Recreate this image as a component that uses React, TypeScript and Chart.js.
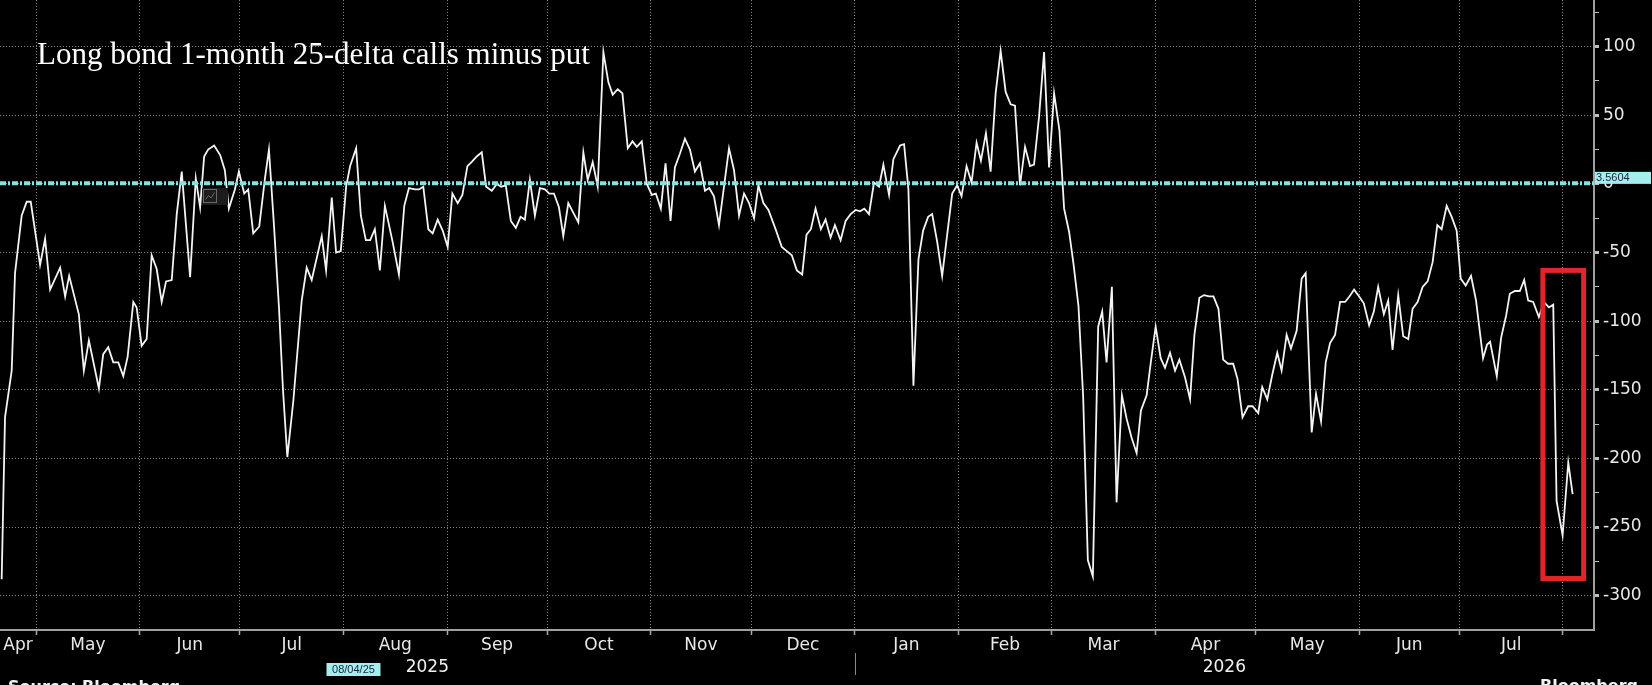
import { useEffect, useRef } from "react";
import { Chart, registerables } from "chart.js";

Chart.register(...registerables);

// ---- data (x = calendar days counted from 1 Apr of the first labelled year) ----
const obsDay = [
  19.7, 20.7, 22.7, 23.7, 25.7, 27.2, 28.4, 31.2, 32.7, 34.2,
  37.2, 38.7, 39.9, 42.8, 44.3, 45.8, 48.8, 50.1, 51.6, 53.1,
  54.6, 56.1, 57.4, 59.1, 60.1, 61.6, 63.1, 64.6, 66.1, 67.6,
  68.9, 70.6, 72.1, 73.6, 76.1, 77.8, 79.1, 80.3, 81.5, 83.3,
  85.1, 86.5, 87.7, 89.5, 90.7, 92.3, 93.5, 95.0, 96.8, 98.5,
  99.7, 101.2, 102.7, 103.9, 105.2, 107.0, 109.5, 111.0, 112.5, 115.5,
  116.8, 118.5, 119.8, 121.2, 122.8, 124.0, 125.8, 127.2, 128.7, 130.0,
  131.4, 132.9, 134.4, 136.7, 138.6, 140.2, 141.6, 143.4, 144.6, 145.9,
  147.4, 148.7, 150.2, 151.7, 153.2, 154.6, 156.2, 157.6, 159.1, 160.4,
  161.9, 163.4, 164.7, 166.4, 167.9, 169.2, 170.6, 172.1, 173.6, 175.0,
  176.3, 177.8, 179.3, 180.8, 182.3, 183.6, 185.0, 186.5, 187.8, 189.3,
  192.3, 193.8, 195.1, 196.6, 198.1, 199.8, 201.3, 202.6, 204.1, 205.5,
  207.1, 208.5, 209.8, 211.3, 212.8, 214.3, 215.5, 217.0, 218.4, 219.9,
  221.2, 222.7, 224.2, 225.7, 227.2, 228.7, 230.2, 231.5, 232.9, 234.4,
  235.9, 237.4, 238.9, 240.4, 241.9, 243.4, 244.9, 246.2, 247.7, 249.2,
  251.2, 253.2, 254.7, 256.2, 257.7, 259.3, 260.6, 261.9, 263.3, 264.9,
  266.3, 267.8, 269.1, 270.8, 272.3, 273.8, 275.3, 276.6, 277.9, 279.3,
  280.8, 282.3, 283.6, 285.3, 286.6, 288.6, 289.8, 291.1, 292.6, 294.1,
  295.5, 297.0, 298.2, 299.7, 301.2, 302.7, 304.2, 305.7, 307.0, 308.5,
  310.0, 311.5, 312.8, 314.3, 315.7, 317.2, 318.7, 320.2, 321.7, 323.0,
  324.5, 326.0, 327.5, 328.7, 330.2, 331.7, 333.2, 334.7, 336.3, 337.7,
  339.2, 340.5, 342.0, 343.4, 344.8, 346.3, 347.9, 349.1, 350.4, 352.0,
  353.4, 355.0, 356.4, 357.9, 359.4, 360.7, 362.4, 363.6, 365.1, 366.6,
  367.9, 369.4, 370.9, 372.2, 373.9, 375.4, 376.7, 378.2, 379.6, 381.1,
  382.4, 383.9, 385.3, 386.8, 388.3, 389.6, 391.1, 392.8, 394.1, 395.8,
  397.0, 398.5, 400.0, 401.5, 402.8, 404.3, 405.6, 407.3, 408.8, 410.0,
  411.8, 413.1, 414.6, 416.0, 417.3, 418.8, 420.3, 421.8, 423.1, 424.5,
  426.0, 427.4, 429.0, 430.4, 431.7, 433.4, 434.7, 436.0, 437.7, 439.2,
  440.7, 442.0, 443.5, 445.0, 446.5, 448.0, 449.4, 450.7, 452.2, 453.7,
  455.2, 456.4, 457.9, 459.5, 461.0, 462.2, 463.1, 464.3, 465.2, 467.2,
  468.5, 470.0, 471.1, 472.6, 474.1, 475.4, 476.6, 478.1, 479.8, 481.3,
  482.8, 484.1, 485.1, 486.9, 488.6, 489.9,
];

const spread = [
  -288, -170, -136, -65, -23, -13, -13, -59, -40, -77,
  -61, -82, -67, -95, -136, -114, -149, -124, -119, -130,
  -130, -140, -126, -86, -90, -118, -113, -52, -62, -86,
  -71, -70, -22, 9, -68, 4, -17, 20, 25, 28,
  21, 10, -18, -4, 9, -7, -4, -36, -31, 4,
  25, -30, -90, -150, -199, -158, -85, -61, -70, -38,
  -63, -10, -50, -49, -2, 13, 26, -23, -41, -41,
  -33, -63, -16, -42, -66, -16, -3, -4, -4, -2,
  -33, -36, -26, -34, -46, -7, -14, -8, 13, 16,
  20, 23, -2, -5, 0, -2, -1, -27, -32, -24,
  -26, 3, -23, -3, -4, -7, -7, -17, -38, -14,
  -28, 23, 3, 16, -2, 96, 74, 65, 69, 66,
  26, 31, 27, 31, 0, -8, -7, -18, 15, -27,
  12, 22, 33, 25, 9, 15, -5, -3, -9, -30,
  -2, 26, 10, -23, -7, -14, -25, -1, -14, -19,
  -32, -46, -49, -52, -63, -66, -37, -33, -18, -33,
  -26, -39, -30, -41, -27, -22, -19, -20, -18, -22,
  1, -2, 14, -8, 18, 28, 29, -4, -147, -55,
  -34, -24, -22, -42, -67, -37, -7, -1, -9, 13,
  1, 30, 17, 37, 9, 66, 97, 67, 58, 57,
  -1, 27, 13, 14, 49, 96, 12, 66, 39, -18,
  -35, -58, -89, -155, -274, -286, -104, -93, -130, -75,
  -232, -154, -171, -185, -196, -165, -154, -131, -104, -127,
  -134, -123, -136, -128, -141, -157, -110, -83, -81, -82,
  -82, -91, -128, -131, -131, -142, -170, -162, -162, -167,
  -148, -157, -139, -123, -136, -110, -120, -107, -69, -65,
  -181, -153, -173, -130, -116, -110, -86, -86, -82, -77,
  -82, -87, -103, -93, -75, -95, -85, -121, -81, -111,
  -113, -91, -86, -75, -71, -57, -30, -33, -16, -24,
  -34, -69, -74, -67, -85, -109, -127, -117, -115, -140,
  -112, -96, -80, -78, -78, -70, -85, -86, -97, -86,
  -90, -88, -231, -256, -203, -226,
];

const referenceLevel = 0.4;
const referenceLabel = "3.5604";

const monthStartDay = [0, 30, 61, 91, 122, 153, 183, 214, 244, 275, 306, 334, 365, 395, 426, 456, 487, 518];
const monthNames = ["Apr", "May", "Jun", "Jul", "Aug", "Sep", "Oct", "Nov", "Dec", "Jan", "Feb", "Mar", "Apr", "May", "Jun", "Jul", "Aug"];
const yearStartDay = [0, 275, 640];
const yearNames = ["2025", "2026"];

const windowStartDay = 19.2;
const windowEndDay = 496.3;
const valueMin = -325;
const valueMax = 134;
const majorStep = 50;
const minorStep = 25;

const crosshairDay = 125;
const crosshairLabel = "08/04/25";

const highlightFromDay = 481;
const highlightToDay = 493.2;
const highlightTop = -63;
const highlightBottom = -287.5;

const titleText = "Long bond 1-month 25-delta calls minus put";
const sourceText = "Source: Bloomberg";
const brandText = "Bloomberg";

const AXIS_FONT = "DejaVu Sans";

export default function App() {
  const ref = useRef<HTMLCanvasElement | null>(null);

  useEffect(() => {
    document.body.style.margin = "0";
    document.body.style.background = "#000";
    const canvas = ref.current;
    if (!canvas) return;

    const points = obsDay.map((d, i) => ({ x: d, y: spread[i] }));

    // month label positions = middle of each visible month span
    const monthMid: number[] = [];
    const monthLabel: string[] = [];
    for (let i = 0; i < monthNames.length; i++) {
      const a = Math.max(monthStartDay[i], windowStartDay);
      const b = Math.min(monthStartDay[i + 1], windowEndDay);
      if (b - a >= 10) {
        monthMid.push((a + b) / 2);
        monthLabel.push(monthNames[i]);
      }
    }
    const yearMid: number[] = [];
    for (let i = 0; i < yearNames.length; i++) {
      const a = Math.max(yearStartDay[i], windowStartDay);
      const b = Math.min(yearStartDay[i + 1], windowEndDay);
      yearMid.push((a + b) / 2);
    }
    const valueTicks: number[] = [];
    for (let v = Math.ceil((valueMin + 1) / minorStep) * minorStep; v < valueMax; v += minorStep) valueTicks.push(v);

    const isMajor = (v: number) => Math.abs(v % majorStep) < 1e-9;

    const decor = {
      id: "decor",
      beforeDraw(chart: any) {
        const c = chart.ctx;
        c.save();
        c.fillStyle = "#000";
        c.fillRect(0, 0, chart.width, chart.height);
        c.restore();
      },
      afterDraw(chart: any) {
        const c = chart.ctx as CanvasRenderingContext2D;
        const xs = chart.scales.x;
        const ys = chart.scales.y;
        const area = chart.chartArea;
        c.save();

        // title
        c.fillStyle = "#ffffff";
        c.font = '31px "Liberation Serif"';
        c.textAlign = "left";
        c.textBaseline = "alphabetic";
        c.fillText(titleText, area.left + 37, area.top + 64);

        // small chart-tool icon
        c.fillStyle = "#1c1c1c";
        c.fillRect(area.left + 202, area.top + 188, 26, 17);
        c.strokeStyle = "#6a6a6a";
        c.lineWidth = 1;
        c.strokeRect(area.left + 203.5, area.top + 189.5, 13, 13);
        c.beginPath();
        c.moveTo(area.left + 205.5, area.top + 199.5);
        c.lineTo(area.left + 208.5, area.top + 195.5);
        c.lineTo(area.left + 211, area.top + 198);
        c.lineTo(area.left + 214.5, area.top + 192.5);
        c.stroke();

        // highlight box
        const bx1 = xs.getPixelForValue(highlightFromDay);
        const bx2 = xs.getPixelForValue(highlightToDay);
        const by1 = ys.getPixelForValue(highlightTop);
        const by2 = ys.getPixelForValue(highlightBottom);
        c.strokeStyle = "#e1262b";
        c.lineWidth = 5;
        c.strokeRect(bx1, by1, bx2 - bx1, by2 - by1);

        // reference level tag
        const ry = ys.getPixelForValue(referenceLevel);
        c.fillStyle = "#a4eeee";
        c.fillRect(area.right + 1, ry - 11.5, 56, 12);
        c.fillStyle = "#18243c";
        c.font = '11px "Liberation Sans"';
        c.textAlign = "left";
        c.textBaseline = "middle";
        c.fillText(referenceLabel, area.right + 2, ry - 5.5);

        // crosshair date tag
        const cx = xs.getPixelForValue(crosshairDay);
        c.fillStyle = "#a4eeee";
        c.fillRect(cx - 27, area.bottom + 33, 54, 13);
        c.fillStyle = "#18243c";
        c.textAlign = "center";
        c.fillText(crosshairLabel, cx, area.bottom + 40);

        // year separator
        const sx = Math.round(xs.getPixelForValue(yearStartDay[1])) + 0.5;
        c.strokeStyle = "#8a8a8a";
        c.lineWidth = 1;
        c.beginPath();
        c.moveTo(sx, area.bottom + 23);
        c.lineTo(sx, area.bottom + 45);
        c.stroke();

        // footer (cut off by the bottom edge, as in the original)
        c.fillStyle = "#f2f2f2";
        c.textAlign = "left";
        c.textBaseline = "top";
        c.font = `bold 16px "${AXIS_FONT}"`;
        c.fillText(sourceText, 8, 680);
        c.fillText(brandText, 1540, 679);

        c.restore();
      },
    };

    const chart = new Chart(canvas, {
      type: "line",
      data: {
        datasets: [
          {
            label: "ref",
            data: [
              { x: windowStartDay, y: referenceLevel },
              { x: windowEndDay, y: referenceLevel },
            ],
            xAxisID: "x",
            yAxisID: "y",
            borderColor: "#86e2e2",
            borderWidth: 4,
            borderDash: [6, 2, 2, 2],
            borderCapStyle: "butt",
            pointRadius: 0,
            order: 0,
          },
          {
            label: "Long bond 1-month 25-delta calls minus put",
            data: points,
            xAxisID: "x",
            yAxisID: "y",
            borderColor: "#f4f4f4",
            borderWidth: 1.8,
            pointRadius: 0,
            tension: 0,
            order: 1,
          },
        ],
      },
      options: {
        animation: false,
        responsive: false,
        devicePixelRatio: 1,
        events: [],
        layout: { padding: 0 },
        plugins: {
          legend: { display: false },
          tooltip: { enabled: false },
          title: { display: false },
        },
        scales: {
          x: {
            type: "linear",
            position: "bottom",
            min: windowStartDay,
            max: windowEndDay,
            weight: 0,
            afterBuildTicks: (s: any) => {
              s.ticks = monthStartDay
                .filter((d) => d > windowStartDay && d < windowEndDay)
                .map((v) => ({ value: v }));
            },
            ticks: { display: false },
            grid: {
              color: "#858585",
              lineWidth: 1,
              drawTicks: true,
              tickLength: 5,
              tickColor: "#a8a8a8",
              tickWidth: 1.5,
            },
            border: { display: true, color: "#a0a0a0", width: 2, dash: [1, 2] },
            afterFit: (s: any) => {
              s.height = 5;
              s.paddingLeft = 0;
              s.paddingRight = 0;
            },
          },
          xMonths: {
            type: "linear",
            axis: "x",
            position: "bottom",
            min: windowStartDay,
            max: windowEndDay,
            weight: 1,
            afterBuildTicks: (s: any) => {
              s.ticks = monthMid.map((v) => ({ value: v }));
            },
            ticks: {
              autoSkip: false,
              maxRotation: 0,
              minRotation: 0,
              padding: 0,
              color: "#e8e8e8",
              font: { family: AXIS_FONT, size: 17 },
              callback: (_v: any, i: number) => monthLabel[i],
            },
            grid: { display: false, drawTicks: false },
            border: { display: false },
            afterFit: (s: any) => {
              s.height = 22;
              s.paddingLeft = 0;
              s.paddingRight = 0;
            },
          },
          xYears: {
            type: "linear",
            axis: "x",
            position: "bottom",
            min: windowStartDay,
            max: windowEndDay,
            weight: 2,
            afterBuildTicks: (s: any) => {
              s.ticks = yearMid.map((v) => ({ value: v }));
            },
            ticks: {
              autoSkip: false,
              maxRotation: 0,
              minRotation: 0,
              padding: 0,
              color: "#f0f0f0",
              font: { family: AXIS_FONT, size: 17 },
              callback: (_v: any, i: number) => yearNames[i],
            },
            grid: { display: false, drawTicks: false },
            border: { display: false },
            afterFit: (s: any) => {
              s.height = 28;
              s.paddingLeft = 0;
              s.paddingRight = 0;
            },
          },
          y: {
            type: "linear",
            position: "right",
            min: valueMin,
            max: valueMax,
            afterBuildTicks: (s: any) => {
              s.ticks = valueTicks.map((v) => ({ value: v }));
            },
            ticks: {
              autoSkip: false,
              padding: 4,
              color: "#e8e8e8",
              font: { family: AXIS_FONT, size: 17 },
              callback: (v: any) => (isMajor(Number(v)) ? String(v) : ""),
            },
            grid: {
              color: (ctx: any) => (ctx.tick && isMajor(ctx.tick.value) ? "#858585" : "rgba(0,0,0,0)"),
              lineWidth: 1,
              drawTicks: true,
              tickLength: 5,
              tickColor: "#c0c0c0",
              tickWidth: (ctx: any) => (ctx.tick && isMajor(ctx.tick.value) ? 3 : 1),
            },
            border: { display: true, color: "#a0a0a0", width: 2, dash: [1, 2] },
            afterFit: (s: any) => {
              s.width = 58;
              s.paddingTop = 0;
              s.paddingBottom = 0;
            },
          },
        },
      } as any,
      plugins: [decor],
    });

    return () => chart.destroy();
  }, []);

  return (
    <div style={{ width: 1652, height: 685, background: "#000", overflow: "hidden" }}>
      <canvas ref={ref} width={1652} height={685} style={{ display: "block", width: 1652, height: 685 }} />
    </div>
  );
}
